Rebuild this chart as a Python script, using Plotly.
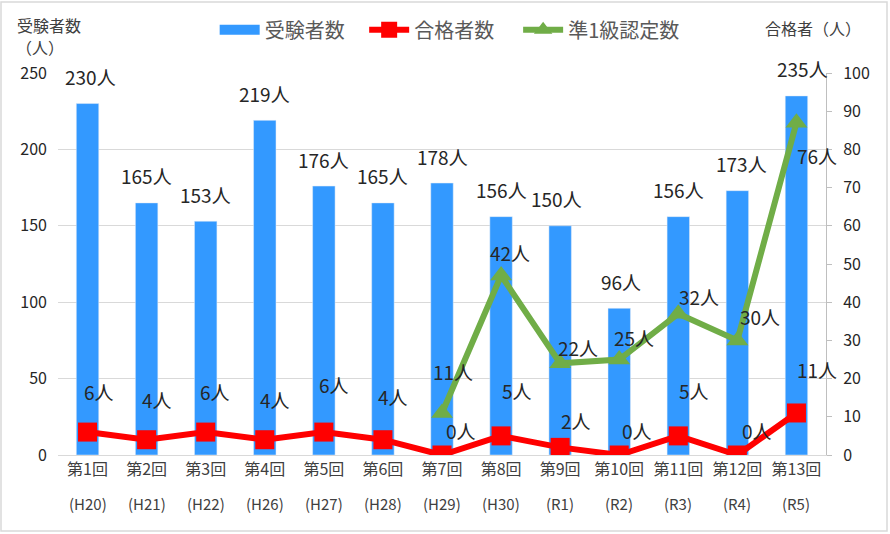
import plotly.graph_objects as go

# ---- data ----
rounds = ["第1回", "第2回", "第3回", "第4回", "第5回", "第6回", "第7回",
          "第8回", "第9回", "第10回", "第11回", "第12回", "第13回"]
eras = ["H20", "H21", "H22", "H26", "H27", "H28", "H29",
        "H30", "R1", "R2", "R3", "R4", "R5"]
examinees = [230, 165, 153, 219, 176, 165, 178, 156, 150, 96, 156, 173, 235]
passers = [6, 4, 6, 4, 6, 4, 0, 5, 2, 0, 5, 0, 11]
level1 = [None, None, None, None, None, None, 11, 42, 22, 25, 32, 30, 76]

# stacked line (準1級 plotted on top of 合格者数)
level1_stacked = [None if g is None else g + p for g, p in zip(level1, passers)]

cats = rounds

# ---- label offsets (styling, pixels) ----
bar_dx = [3, 0, 0, 0, 0, 0, 0, 0, -4, 2, 0, 4, 6]
red_dx = [11, 10, 9, 10, 10, 10, 19, 16, 16, 18, 16, 20, 21]
red_dy = [41, 40, 41, 40, 48, 43, 25, 45, 27, 25, 45, 25, 43]
grn_dx = [0, 0, 0, 0, 0, 0, 11, 9, 18, 15, 21, 23, 21]
grn_dy = [0, 0, 0, 0, 0, 0, 41, 23, 16, 22, 17, 24, -33]

FONT = "Noto Sans CJK JP"
BLUE = "#3399FF"
RED = "#FF0000"
GREEN = "#70AD47"
PAD1 = "\u2002\u00a0"          # legend spacing (styling)
PAD2 = "\u2002\u00a0\u00a0"

fig = go.Figure()
fig.add_trace(go.Bar(
    x=cats, y=examinees, name="受験者数", marker_color=BLUE,
    yaxis="y", width=0.38, showlegend=False))
# legend stand-in for the bar series (wide rectangle swatch)
fig.add_trace(go.Scatter(
    x=[None], y=[None], name="受験者数" + PAD1, mode="lines",
    line=dict(color=BLUE, width=10), hoverinfo="skip"))
fig.add_trace(go.Scatter(
    x=cats, y=passers, name="合格者数" + PAD2, yaxis="y2", mode="lines+markers",
    line=dict(color=RED, width=6),
    marker=dict(symbol="square", size=19, color=RED)))
fig.add_trace(go.Scatter(
    x=cats, y=level1_stacked, name="準1級認定数", yaxis="y2", mode="lines+markers",
    line=dict(color=GREEN, width=6),
    marker=dict(symbol="triangle-up", size=19, color=GREEN)))

ann = []
lab_font = dict(family=FONT, size=19, color="#262626")
for i, c in enumerate(cats):
    ann.append(dict(x=c, y=examinees[i], xref="x", yref="y", text=f"{examinees[i]}人",
                    showarrow=False, yanchor="middle", xanchor="center",
                    yshift=27, xshift=bar_dx[i], font=lab_font))
    ann.append(dict(x=c, y=passers[i], xref="x", yref="y2", text=f"{passers[i]}人",
                    showarrow=False, yanchor="middle", xanchor="center",
                    yshift=red_dy[i], xshift=red_dx[i], font=lab_font))
    if level1[i] is not None:
        ann.append(dict(x=c, y=level1_stacked[i], xref="x", yref="y2", text=f"{level1[i]}人",
                        showarrow=False, yanchor="middle", xanchor="center",
                        yshift=grn_dy[i], xshift=grn_dx[i], font=lab_font))
    # second line of category label
    ann.append(dict(x=c, y=-0.126, xref="x", yref="paper", text=f"({eras[i]})",
                    showarrow=False, yanchor="middle", xanchor="center",
                    font=dict(family=FONT, size=15, color="#404040")))

ttl_font = dict(family=FONT, size=16, color="#404040")
ann.append(dict(x=-0.012, y=1.1257, xref="paper", yref="paper", text="受験者数",
                showarrow=False, xanchor="center", yanchor="middle", font=ttl_font,
                borderpad=0))
ann.append(dict(x=-0.023, y=1.0681, xref="paper", yref="paper", text="（人）",
                showarrow=False, xanchor="center", yanchor="middle", font=ttl_font,
                borderpad=0))
ann.append(dict(x=0.983, y=1.118, xref="paper", yref="paper", text="合格者（人）",
                showarrow=False, xanchor="center", yanchor="middle", font=ttl_font))

L, R, T, B = 58, 64, 73, 79
W, H = 890, 534
pw, ph = W - L - R, H - T - B
shapes = [dict(type="rect", xref="paper", yref="paper",
               x0=(1 - L) / pw, x1=(W - L - 3) / pw,
               y0=-(B - 3) / ph, y1=(ph + T - 2) / ph,
               line=dict(color="#D9D9D9", width=1.5), layer="below")]

fig.update_layout(
    width=W, height=H,
    margin=dict(l=L, r=R, t=T, b=B, autoexpand=False),
    paper_bgcolor="white", plot_bgcolor="white",
    font=dict(family=FONT, size=15, color="#404040"),
    showlegend=True,
    legend=dict(orientation="h", x=0.204, y=1.113, xanchor="left", yanchor="middle",
                font=dict(family=FONT, size=20, color="#595959"),
                itemwidth=40, bgcolor="rgba(0,0,0,0)"),
    xaxis=dict(type="category", range=[-0.5, 12.5], showgrid=False, showline=True,
               linecolor="#D9D9D9", linewidth=1, ticks="",
               tickfont=dict(family=FONT, size=16, color="#404040")),
    yaxis=dict(range=[0, 250], dtick=50, showgrid=True, gridcolor="#D9D9D9", gridwidth=1,
               zeroline=False, showline=False, ticks="", ticklabelstandoff=10,
               tickfont=dict(family=FONT, size=16, color="#262626")),
    yaxis2=dict(range=[0, 100], dtick=10, overlaying="y", side="right", showgrid=False,
                zeroline=False, showline=True, linecolor="#BFBFBF", linewidth=1,
                ticks="outside", ticklen=5, tickcolor="#BFBFBF", ticklabelstandoff=8,
                tickfont=dict(family=FONT, size=16, color="#262626")),
    annotations=ann,
    shapes=shapes,
)

fig.write_html("out.html", config={"displayModeBar": False},
               post_script="document.body.style.margin='0px';document.body.style.overflow='hidden';")
